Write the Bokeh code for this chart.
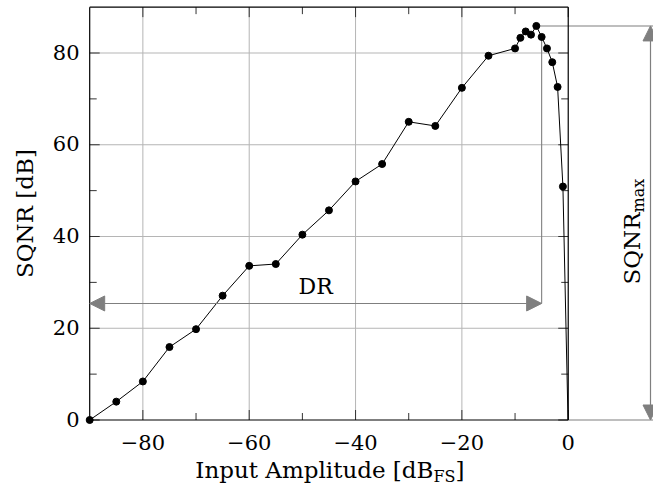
import math
from bokeh.plotting import figure
from bokeh.models import Range1d, Arrow, NormalHead
from bokeh.core.properties import value
from bokeh.embed import file_html
from bokeh.resources import INLINE

# ---------------- data ----------------
input_db = [-90, -85, -80, -75, -70, -65, -60, -55, -50, -45, -40, -35, -30, -25,
            -20, -15, -10, -9, -8, -7, -6, -5, -4, -3, -2, -1, 0]
sqnr_db = [0.0, 4.0, 8.4, 15.9, 19.8, 27.1, 33.6, 34.0, 40.4, 45.7, 52.0, 55.8, 65.0, 64.1,
           72.4, 79.4, 81.0, 83.3, 84.7, 84.0, 85.9, 83.5, 81.0, 78.0, 72.6, 50.9, -2.0]

x_major = [-80, -60, -40, -20, 0]
x_major_labels = ["\u221280", "\u221260", "\u221240", "\u221220", "0"]
x_minor = [-70, -50, -30, -10]
y_major = [0, 20, 40, 60, 80]
y_major_labels = ["0", "20", "40", "60", "80"]
y_minor = [10, 30, 50, 70]

x_lo, x_hi = -90, 0          # limits of the plot box
y_lo, y_hi = 0, 90
dr_level = 25.4              # height of the DR arrow
dr_end_x = -5                # right end of the DR arrow

x_label_main, x_label_sub, x_label_end = "Input Amplitude [dB", "FS", "]"
y_label = "SQNR [dB]"
dr_label = "DR"
peak_label_main, peak_label_sub = "SQNR", "max"

# ---------------- layout (pixels) ----------------
W, H = 653, 496
sx, sy = 5.317, 4.5875       # px per data unit
x0 = x_lo - 89.2 / sx        # data x at the left canvas edge
x1 = x0 + W / sx
y1 = y_lo + 419.5 / sy       # data y at the top canvas edge
y0 = y1 - H / sy

def X(px):                   # canvas px -> data x
    return x0 + px / sx
def Y(py):                   # canvas px -> data y
    return y1 - py / sy

FONT = "DejaVu Serif"
GRAY = "#7f7f7f"
GRID = "#b5b5b5"
TICK = "#333333"

p = figure(width=W, height=H, x_range=Range1d(x0, x1), y_range=Range1d(y0, y1),
           output_backend="svg", toolbar_location=None,
           x_axis_location=None, y_axis_location=None,
           min_border_left=0, min_border_right=0, min_border_top=0, min_border_bottom=0)
p.outline_line_color = None
p.grid.visible = False
p.background_fill_color = "white"
p.border_fill_color = "white"

def txt(x, y, t, size, align="center", angle=0.0):
    p.text(x=x, y=y, text=t, angle=angle, text_font=value(FONT), text_font_size=size,
           text_align=align, text_baseline="middle", text_color="black")

# grid lines (inside the box only)
gx = [v for v in x_major if x_lo < v < x_hi]
p.segment(x0=gx, y0=[y_lo] * len(gx), x1=gx, y1=[y_hi] * len(gx), line_color=GRID, line_width=1)
gy = [v for v in y_major if y_lo < v < y_hi]
p.segment(x0=[x_lo] * len(gy), y0=gy, x1=[x_hi] * len(gy), y1=gy, line_color=GRID, line_width=1)

# ticks on all four sides
LM, Lm = 10, 7
def ticks_x(vals, L):
    n = len(vals)
    p.segment(x0=vals, y0=[y_lo] * n, x1=vals, y1=[y_lo + L / sy] * n, line_color=TICK, line_width=1)
    p.segment(x0=vals, y0=[y_hi] * n, x1=vals, y1=[y_hi - L / sy] * n, line_color=TICK, line_width=1)
def ticks_y(vals, L):
    n = len(vals)
    p.segment(x0=[x_lo] * n, y0=vals, x1=[x_lo + L / sx] * n, y1=vals, line_color=TICK, line_width=1)
    p.segment(x0=[x_hi] * n, y0=vals, x1=[x_hi - L / sx] * n, y1=vals, line_color=TICK, line_width=1)
ticks_x(x_major, LM); ticks_x(x_minor, Lm)
ticks_y(y_major, LM); ticks_y(y_minor, Lm)

# tick labels
txt(x_major, [Y(441.5)] * len(x_major), x_major_labels, "21px")
txt([X(79)] * len(y_major), [v + 0.2 for v in y_major], y_major_labels, "21px", align="right")

# axis labels
txt([X(24)], [(y_lo + y_hi) / 2], [y_label], "23px", angle=math.pi / 2)
w_main, w_sub, w_br = 240.0, 22.0, 9.0
J = (x_lo + x_hi) / 2 + (w_main - w_sub - w_br) / 2 / sx
txt([J], [Y(469)], [x_label_main], "23px", align="right")
txt([J], [Y(476)], [x_label_sub], "16px", align="left")
txt([J + w_sub / sx], [Y(469)], [x_label_end], "23px", align="left")

# annotation helper lines (gray)
peak_i = max(range(len(sqnr_db)), key=lambda i: sqnr_db[i])
peak_x, peak_v = input_db[peak_i], sqnr_db[peak_i]
dr_v = sqnr_db[input_db.index(dr_end_x)]
p.segment(x0=[dr_end_x, peak_x, x_hi], y0=[dr_v, peak_v, y_lo],
          x1=[dr_end_x, x1, x1], y1=[dr_level, peak_v, y_lo],
          line_color=GRAY, line_width=1.1)

# box
p.segment(x0=[x_lo, x_lo, x_lo, x_hi], y0=[y_lo, y_hi, y_lo, y_lo],
          x1=[x_hi, x_hi, x_lo, x_hi], y1=[y_lo, y_hi, y_hi, y_hi],
          line_color="black", line_width=1.2)

# data: clip the polyline to the plot box (y >= y_lo), like the axis clip
lx, ly = [], []
for i in range(len(input_db)):
    xa, ya = input_db[i], sqnr_db[i]
    if ya >= y_lo:
        lx.append(xa); ly.append(ya)
    if i + 1 < len(input_db):
        xb, yb_ = input_db[i + 1], sqnr_db[i + 1]
        if (ya - y_lo) * (yb_ - y_lo) < 0:
            t = (y_lo - ya) / (yb_ - ya)
            lx.append(xa + t * (xb - xa)); ly.append(y_lo)
p.line(lx, ly, line_color="black", line_width=1)
mx = [a for a, b in zip(input_db, sqnr_db) if b >= y_lo]
my = [b for b in sqnr_db if b >= y_lo]
p.scatter(mx, my, size=7, fill_color="black", line_color="black")

# arrows
def head():
    return NormalHead(size=15, fill_color=GRAY, line_color=GRAY)
p.add_layout(Arrow(start=head(), end=head(), x_start=x_lo, y_start=dr_level,
                   x_end=dr_end_x, y_end=dr_level, line_color=GRAY, line_width=1.2))
arrow_x = X(650)
p.add_layout(Arrow(start=head(), end=head(), x_start=arrow_x, y_start=y_lo,
                   x_end=arrow_x, y_end=peak_v, line_color=GRAY, line_width=1.2))

# DR text
txt([(x_lo + dr_end_x) / 2], [dr_level + 17 / sy], [dr_label], "22px")

# SQNR_max text (rotated, with subscript)
lab_y = Y(212)
txt([X(631)], [lab_y], [peak_label_main], "23px", align="right", angle=math.pi / 2)
txt([X(638)], [lab_y], [peak_label_sub], "16px", align="left", angle=math.pi / 2)

open("out.html", "w").write(file_html(p, INLINE))
